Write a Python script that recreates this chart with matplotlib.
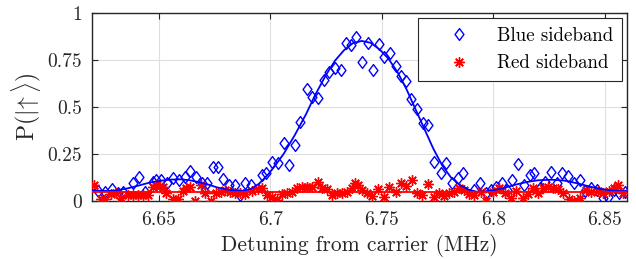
"""Blue / red sideband scan vs detuning from carrier."""

import matplotlib
matplotlib.use("Agg")
import matplotlib.pyplot as plt
from matplotlib.path import Path

# ---- data ----
blue_x = [6.6230, 6.6260, 6.6290, 6.6319, 6.6341, 6.6386, 6.6413, 6.6439, 6.6473, 6.6488,
          6.6510, 6.6536, 6.6565, 6.6592, 6.6618, 6.6640, 6.6667, 6.6692, 6.6715, 6.6742,
          6.6764, 6.6789, 6.6816, 6.6841, 6.6864, 6.6886, 6.6913, 6.6961, 6.6983, 6.7010,
          6.7035, 6.7061, 6.7084, 6.7110, 6.7132, 6.7165, 6.7189, 6.7216, 6.7241, 6.7264,
          6.7289, 6.7315, 6.7338, 6.7364, 6.7386, 6.7413, 6.7438, 6.7461, 6.7488, 6.7510,
          6.7535, 6.7562, 6.7584, 6.7610, 6.7632, 6.7659, 6.7684, 6.7707, 6.7733, 6.7764,
          6.7789, 6.7814, 6.7841, 6.7863, 6.7913, 6.7938, 6.7968, 6.7990, 6.8013, 6.8038,
          6.8060, 6.8084, 6.8110, 6.8136, 6.8162, 6.8184, 6.8210, 6.8233, 6.8259, 6.8284,
          6.8308, 6.8333, 6.8360, 6.8386, 6.8412, 6.8438, 6.8465, 6.8490, 6.8512, 6.8539,
          6.8562, 6.8588]
blue_y = [0.055, 0.050, 0.064, 0.041, 0.050, 0.097, 0.126, 0.050, 0.103, 0.112,
          0.112, 0.097, 0.120, 0.112, 0.129, 0.161, 0.129, 0.097, 0.097, 0.179,
          0.182, 0.115, 0.085, 0.085, 0.032, 0.097, 0.085, 0.138, 0.147, 0.205,
          0.200, 0.306, 0.191, 0.299, 0.421, 0.593, 0.554, 0.549, 0.643, 0.687,
          0.705, 0.696, 0.837, 0.828, 0.869, 0.740, 0.837, 0.696, 0.832, 0.766,
          0.788, 0.717, 0.664, 0.637, 0.540, 0.487, 0.413, 0.404, 0.209, 0.147,
          0.200, 0.094, 0.120, 0.147, 0.058, 0.094, 0.041, 0.058, 0.076, 0.094,
          0.058, 0.112, 0.195, 0.085, 0.138, 0.147, 0.067, 0.103, 0.156, 0.094,
          0.147, 0.133, 0.097, 0.112, 0.055, 0.067, 0.058, 0.014, 0.020, 0.058,
          0.041, 0.050]

red_x = [6.6210, 6.6240, 6.6261, 6.6288, 6.6310, 6.6332, 6.6362, 6.6385, 6.6407, 6.6430,
         6.6452, 6.6474, 6.6489, 6.6504, 6.6519, 6.6534, 6.6564, 6.6586, 6.6609, 6.6623,
         6.6639, 6.6661, 6.6691, 6.6706, 6.6735, 6.6758, 6.6780, 6.6798, 6.6820, 6.6843,
         6.6865, 6.6888, 6.6918, 6.6947, 6.6962, 6.6985, 6.7007, 6.7029, 6.7052, 6.7074,
         6.7097, 6.7119, 6.7141, 6.7164, 6.7186, 6.7216, 6.7231, 6.7253, 6.7276, 6.7298,
         6.7320, 6.7343, 6.7365, 6.7380, 6.7395, 6.7413, 6.7435, 6.7458, 6.7485, 6.7510,
         6.7532, 6.7562, 6.7584, 6.7607, 6.7634, 6.7659, 6.7682, 6.7708, 6.7734, 6.7756,
         6.7778, 6.7801, 6.7823, 6.7845, 6.7868, 6.7890, 6.7913, 6.7943, 6.7965, 6.7998,
         6.8024, 6.8050, 6.8080, 6.8102, 6.8132, 6.8154, 6.8177, 6.8199, 6.8221, 6.8244,
         6.8266, 6.8288, 6.8311, 6.8341, 6.8363, 6.8386, 6.8416, 6.8438, 6.8468, 6.8490,
         6.8520, 6.8542, 6.8557, 6.8579]
red_y = [0.085, 0.009, 0.009, 0.037, 0.044, 0.014, 0.032, 0.032, 0.032, 0.032,
         0.032, 0.076, 0.085, 0.080, 0.076, 0.041, 0.009, 0.009, 0.055, 0.067,
         0.076, 0.002, 0.085, 0.041, 0.002, 0.041, 0.050, 0.058, 0.050, 0.041,
         0.044, 0.037, 0.055, 0.062, 0.067, 0.032, 0.020, 0.005, 0.037, 0.044,
         0.050, 0.067, 0.076, 0.073, 0.076, 0.103, 0.067, 0.062, 0.032, 0.041,
         0.044, 0.050, 0.067, 0.094, 0.085, 0.058, 0.044, 0.027, 0.062, 0.023,
         0.076, 0.050, 0.094, 0.080, 0.112, 0.044, 0.032, 0.090, 0.023, 0.044,
         0.027, 0.041, 0.050, 0.067, 0.058, 0.037, 0.032, 0.050, 0.002, 0.050,
         0.067, 0.041, 0.014, 0.055, 0.014, 0.037, 0.067, 0.041, 0.067, 0.076,
         0.067, 0.062, 0.044, 0.009, 0.002, 0.014, 0.058, 0.050, 0.055, 0.041,
         0.055, 0.067, 0.085, 0.041]

# fitted curves as drawn in the figure
blue_fit_x = [6.620, 6.624, 6.628, 6.632, 6.636, 6.641, 6.646, 6.651, 6.656, 6.660,
              6.664, 6.668, 6.672, 6.676, 6.680, 6.684, 6.687, 6.691, 6.695, 6.699,
              6.702, 6.706, 6.711, 6.716, 6.720, 6.725, 6.729, 6.733, 6.737, 6.741,
              6.745, 6.749, 6.753, 6.757, 6.761, 6.765, 6.769, 6.773, 6.777, 6.781,
              6.785, 6.789, 6.792, 6.796, 6.800, 6.805, 6.810, 6.815, 6.820, 6.826,
              6.832, 6.838, 6.843, 6.848, 6.853, 6.857, 6.860]
blue_fit_y = [0.058, 0.054, 0.053, 0.058, 0.067, 0.082, 0.098, 0.108, 0.114, 0.115,
              0.110, 0.100, 0.088, 0.073, 0.062, 0.055, 0.053, 0.062, 0.092, 0.140,
              0.185, 0.250, 0.350, 0.460, 0.560, 0.670, 0.745, 0.800, 0.838, 0.850,
              0.840, 0.805, 0.755, 0.685, 0.595, 0.490, 0.385, 0.280, 0.190, 0.125,
              0.085, 0.060, 0.050, 0.050, 0.057, 0.070, 0.087, 0.101, 0.110, 0.113,
              0.108, 0.093, 0.077, 0.064, 0.055, 0.052, 0.053]
red_fit_x = [6.620, 6.860]
red_fit_y = [0.048, 0.048]

x_ticks = [6.65, 6.70, 6.75, 6.80, 6.85]
x_tick_labels = ["6.65", "6.7", "6.75", "6.8", "6.85"]
y_ticks = [0, 0.25, 0.5, 0.75, 1]
y_tick_labels = ["0", "0.25", "0.5", "0.75", "1"]

plt.rcParams["font.family"] = ["cmr10", "DejaVu Serif"]
plt.rcParams["mathtext.fontset"] = "cm"
plt.rcParams["axes.unicode_minus"] = False

fig = plt.figure(figsize=(6.36, 2.59), dpi=100)
ax = fig.add_axes([0.1442, 0.2239, 0.8421, 0.7271])

axis_col = "#262626"
star = (8, 2, 0)
# MATLAB style diamond, a bit taller than wide
diamond = Path([(0, 1), (0.75, 0), (0, -1), (-0.75, 0), (0, 1)],
               [Path.MOVETO, Path.LINETO, Path.LINETO, Path.LINETO, Path.CLOSEPOLY])

ax.plot(blue_x, blue_y, linestyle="none", marker=diamond, markersize=8.5,
        markerfacecolor="none", markeredgecolor="blue", markeredgewidth=1.0,
        label="Blue sideband", zorder=3)
ax.plot(red_x, red_y, linestyle="none", marker=star, markersize=7.5,
        markeredgecolor="red", markeredgewidth=1.0, color="red",
        label="Red sideband", zorder=3)
ax.plot(blue_fit_x, blue_fit_y, color="blue", linewidth=1.3, zorder=4)
ax.plot(red_fit_x, red_fit_y, color="red", linewidth=1.3, zorder=4)

ax.set_xlim(6.62, 6.86)
ax.set_ylim(0, 1)
ax.set_xticks(x_ticks)
ax.set_xticklabels(x_tick_labels)
ax.set_yticks(y_ticks)
ax.set_yticklabels(y_tick_labels)
ax.grid(True, color="#dfdfdf", linewidth=0.8)
ax.set_axisbelow(True)
ax.tick_params(direction="in", top=True, right=True, length=4, width=0.8,
               color=axis_col, labelsize=14, labelcolor=axis_col, pad=7)
for s in ax.spines.values():
    s.set_color(axis_col)
    s.set_linewidth(1.0)

ax.set_xlabel("Detuning from carrier (MHz)", fontsize=15.5, color=axis_col,
              labelpad=4)
ax.set_ylabel(r"P$(|\!\uparrow\rangle)$", fontsize=17, color=axis_col,
              labelpad=3)

leg = ax.legend(loc="upper right", fontsize=13.6, frameon=True, fancybox=False,
                framealpha=1, edgecolor=axis_col, handlelength=3.4,
                handletextpad=0.3, borderpad=0.45, labelspacing=0.5,
                borderaxespad=0.3)
leg.get_frame().set_linewidth(0.8)
for t in leg.get_texts():
    t.set_color("black")

fig.savefig("out.png", dpi=100)
